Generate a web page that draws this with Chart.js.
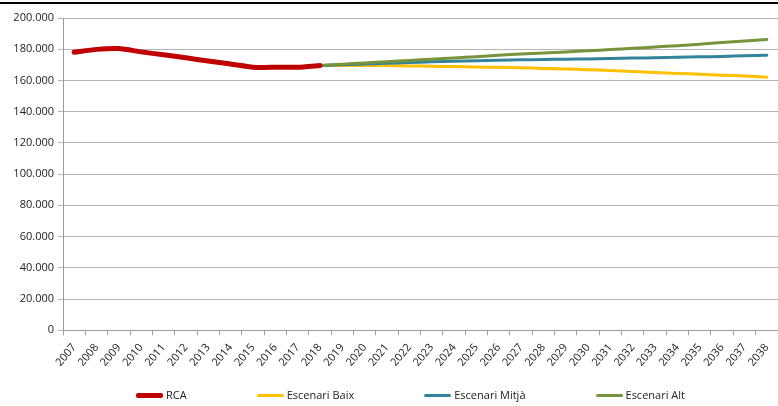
<!DOCTYPE html>
<html>
<head>
<meta charset="utf-8">
<script src="https://cdn.jsdelivr.net/npm/chart.js@4.4.1/dist/chart.umd.min.js"></script>
<style>
  html, body { margin: 0; padding: 0; background: #fff; }
  .wrap { width: 778px; height: 406px; position: relative; overflow: hidden; }
  .topline { position: absolute; left: 0; top: 2px; width: 778px; height: 2px; background: #000; }
  .legend { position: absolute; left: 136px; top: 387px; display: flex; gap: 70px;
            font: 11px 'Open Sans', 'Liberation Sans', sans-serif; color: #222; line-height: 16px; }
  .legend span { display: flex; align-items: center; white-space: nowrap; }
  .legend i { display: inline-block; width: 27px; height: 3px; margin-right: 3px; border-radius: 2px; }
</style>
</head>
<body>
<div class="wrap">
  <div class="topline"></div>
  <canvas class="js-chart" width="778" height="406"></canvas>
  <div class="legend js-legend"></div>
</div>
<script>
const years = ['2007','2008','2009','2010','2011','2012','2013','2014','2015','2016','2017','2018','2019','2020','2021','2022','2023','2024','2025','2026','2027','2028','2029','2030','2031','2032','2033','2034','2035','2036','2037','2038'];

// RCA: historic values 2007-2018
const rca = [178100, 179900, 180400, 178300, 176400, 174500, 172400, 170600, 168500, 168400, 168500, 169600];

// scenarios 2018-2038
const escenariBaix = [169600, 169600, 169600, 169500, 169300, 169100, 168900, 168600, 168400, 168100, 167700, 167300, 166900, 166400, 165800, 165100, 164500, 164000, 163400, 162800, 162100];
const escenariMitja = [169600, 170000, 170500, 171000, 171500, 171900, 172300, 172600, 172900, 173200, 173400, 173600, 173800, 174000, 174300, 174500, 174800, 175100, 175400, 175800, 176200];
const escenariAlt = [169600, 170400, 171200, 172000, 172800, 173600, 174400, 175200, 176100, 177000, 177600, 178300, 179000, 179800, 180600, 181400, 182300, 183200, 184300, 185200, 186300];

const yTicks = [0, 20000, 40000, 60000, 80000, 100000, 120000, 140000, 160000, 180000, 200000];

const FONT = "'Open Sans', 'Liberation Sans', sans-serif";
const pad = (arr) => Array(years.length - arr.length).fill(null).concat(arr);

function formatNum(v) {
    return String(v).replace(/\B(?=(\d{3})+(?!\d))/g, '.');
}

const ctx = document.querySelector('.js-chart').getContext('2d');

const chart = new Chart(ctx, {
    type: 'line',
    data: {
        labels: years,
        datasets: [
            {
                label: 'RCA',
                data: rca,
                borderColor: '#C00000',
                borderWidth: 5,
                order: 0,
            },
            {
                label: 'Escenari Baix',
                data: pad(escenariBaix),
                borderColor: '#FFC000',
                borderWidth: 3,
                order: 3,
            },
            {
                label: 'Escenari Mitjà',
                data: pad(escenariMitja),
                borderColor: '#31849B',
                borderWidth: 3,
                order: 2,
            },
            {
                label: 'Escenari Alt',
                data: pad(escenariAlt),
                borderColor: '#77933C',
                borderWidth: 3,
                order: 1,
            },
        ]
    },
    options: {
        responsive: false,
        animation: false,
        elements: { point: { radius: 0 }, line: { tension: 0.2, borderCapStyle: 'round' } },
        layout: { padding: { top: 18, left: 0, right: 0, bottom: 31 } },
        plugins: {
            tooltip: { enabled: false },
            legend: { display: false }
        },
        scales: {
            x: {
                offset: true,
                afterFit(scale) { scale.paddingRight = 0; },
                grid: {
                    offset: true,
                    drawOnChartArea: false,
                    tickLength: 5,
                    color: '#9a9a9a',
                },
                border: { color: '#9a9a9a' },
                ticks: {
                    font: { family: FONT, size: 11 },
                    color: '#222',
                    minRotation: 50,
                    maxRotation: 50,
                    autoSkip: false,
                    padding: 6,
                }
            },
            y: {
                min: 0,
                max: 200000,
                afterFit(scale) { scale.width = 63; },
                afterBuildTicks(scale) { scale.ticks = yTicks.map(v => ({ value: v })); },
                grid: {
                    color: '#b4b4b4',
                    tickLength: 5,
                },
                border: { color: '#9a9a9a' },
                ticks: {
                    font: { family: FONT, size: 11 },
                    color: '#222',
                    padding: 4,
                    callback(value) {
                        return formatNum(value);
                    }
                }
            }
        }
    }
});

// legend built from the datasets
const legendEl = document.querySelector('.js-legend');
chart.data.datasets.forEach((ds, i) => {
    const item = document.createElement('span');
    const mark = document.createElement('i');
    mark.style.background = ds.borderColor;
    if (i === 0) mark.style.height = '5px';
    item.appendChild(mark);
    item.appendChild(document.createTextNode(ds.label));
    legendEl.appendChild(item);
});
</script>
</body>
</html>
